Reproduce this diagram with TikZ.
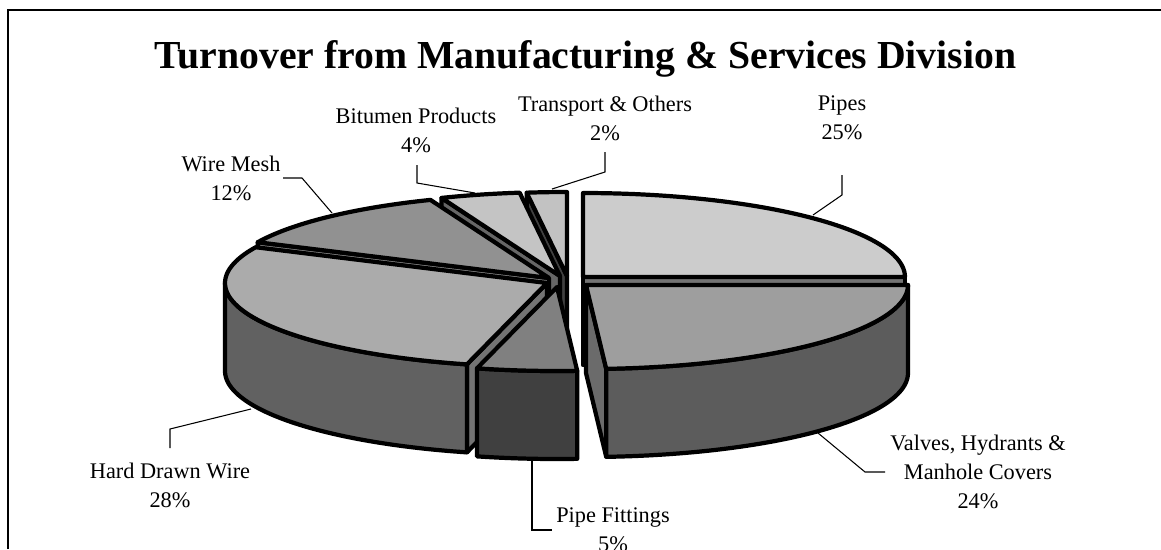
\documentclass[tikz,border=0pt]{standalone}
\usepackage{fontspec}
\setmainfont{Liberation Serif}
\newcommand{\pieRx}{322}
\newcommand{\pieRy}{84}
\newcommand{\pieH}{88}
% top of a slice: centre x, centre y, from angle, to angle, colour
\newcommand{\pietop}[5]{\filldraw[slice,fill=#5] (#1,#2) -- plot[domain=#3:#4] ({#1+\pieRx*cos(\x)},{#2-\pieRy*sin(\x)}) -- cycle;}
% outer wall of a slice
\newcommand{\piewall}[5]{\filldraw[slice,fill=#5] plot[domain=#3:#4] ({#1+\pieRx*cos(\x)},{#2-\pieRy*sin(\x)}) -- plot[domain=#4:#3] ({#1+\pieRx*cos(\x)},{#2+\pieH-\pieRy*sin(\x)}) -- cycle;}
% cut face of a slice at one angle
\newcommand{\pieface}[4]{\filldraw[slice,fill=#4] (#1,#2) -- ({#1+\pieRx*cos(#3)},{#2-\pieRy*sin(#3)}) -- ++(0,\pieH) -- (#1,{#2+\pieH}) -- cycle;}
\definecolor{pipestop}{gray}{0.80}
\definecolor{pipesface}{gray}{0.45}
\definecolor{valvestop}{gray}{0.62}
\definecolor{valveswall}{gray}{0.36}
\definecolor{valvesface}{gray}{0.42}
\definecolor{fittop}{gray}{0.50}
\definecolor{fitwall}{gray}{0.25}
\definecolor{wiretop}{gray}{0.67}
\definecolor{wirewall}{gray}{0.38}
\definecolor{wireface}{gray}{0.45}
\definecolor{meshtop}{gray}{0.57}
\definecolor{meshface}{gray}{0.50}
\definecolor{bitutop}{gray}{0.77}
\definecolor{bituface}{gray}{0.40}
\definecolor{transtop}{gray}{0.76}
\definecolor{transface}{gray}{0.25}
\tikzset{
  slice/.style={draw=black, line width=2.4pt, line join=round},
  leader/.style={draw, line width=0.6pt},
  lbl/.style={font=\fontsize{12.7}{16.4}\selectfont, align=center, inner sep=0pt},
}
\begin{document}
\begin{tikzpicture}[x=0.02cm,y=-0.02cm,samples=60]
\useasboundingbox (0,0) rectangle (1161,549);
\draw[line width=0.8pt] (8,549) -- (8,10) -- (1161,10);
\node[font=\bfseries\fontsize{22.6}{27}\selectfont, anchor=base] (title) at (585.5,68) {Turnover from Manufacturing \& Services Division};

% transport & others
\pieface{567}{276}{-262.8}{transface}
\pietop{567}{276}{-270}{-262.8}{transtop}
% bitumen products
\pieface{560}{276}{-248.4}{bituface}
\pietop{560}{276}{-262.8}{-248.4}{bitutop}
% wire mesh
\pieface{549}{278}{-205.2}{meshface}
\pietop{549}{278}{-248.4}{-205.2}{meshtop}
% pipes
\pieface{583}{277}{0}{pipesface}
\pietop{583}{277}{0}{90}{pipestop}
% hard drawn wire
\pieface{547}{283}{-104.4}{wireface}
\piewall{547}{283}{-180}{-104.4}{wirewall}
\pietop{547}{283}{-205.2}{-104.4}{wiretop}
% valves, hydrants & manhole covers
\pieface{586}{285}{-86.4}{valvesface}
\piewall{586}{285}{-86.4}{0}{valveswall}
\pietop{586}{285}{-86.4}{0}{valvestop}
% pipe fittings
\piewall{557}{287}{-104.4}{-86.4}{fitwall}
\pietop{557}{287}{-104.4}{-86.4}{fittop}

% labels
\node[lbl] (pipes) at (842,118) {Pipes\\25\%};
\node[lbl] (valves) at (978,472) {Valves, Hydrants \&\\Manhole Covers\\24\%};
\node[lbl] (fittings) at (613,530) {Pipe Fittings\\5\%};
\node[lbl] (wire) at (170,485) {Hard Drawn Wire\\28\%};
\node[lbl] (mesh) at (231,178) {Wire Mesh\\12\%};
\node[lbl] (bitumen) at (416,130) {Bitumen Products\\4\%};
\node[lbl] (transport) at (605,118) {Transport \& Others\\2\%};

% leader lines
\coordinate (pipesrim) at (813,215);
\coordinate (pipesbend) at (842,195);
\coordinate (pipesend) at (842,175);
\draw[leader] (pipesrim) -- (pipesbend) -- (pipesend);
\coordinate (valvesrim) at (818,433);
\coordinate (valvesbend) at (865,472);
\coordinate (valvesend) at (885,472);
\draw[leader] (valvesrim) -- (valvesbend) -- (valvesend);
\coordinate (fittingsrim) at (532,460);
\coordinate (fittingsbend) at (532,530);
\coordinate (fittingsend) at (552,530);
\draw[leader] (fittingsrim) -- (fittingsbend) -- (fittingsend);
\coordinate (wirerim) at (251,409);
\coordinate (wirebend) at (170,429);
\coordinate (wireend) at (170,448);
\draw[leader] (wirerim) -- (wirebend) -- (wireend);
\coordinate (meshrim) at (332,213);
\coordinate (meshbend) at (302,178);
\coordinate (meshend) at (283,178);
\draw[leader] (meshrim) -- (meshbend) -- (meshend);
\coordinate (bitumenrim) at (475,193);
\coordinate (bitumenbend) at (417,183);
\coordinate (bitumenend) at (417,165);
\draw[leader] (bitumenrim) -- (bitumenbend) -- (bitumenend);
\coordinate (transportrim) at (552,189);
\coordinate (transportbend) at (605,172);
\coordinate (transportend) at (605,152);
\draw[leader] (transportrim) -- (transportbend) -- (transportend);
\end{tikzpicture}
\end{document}
